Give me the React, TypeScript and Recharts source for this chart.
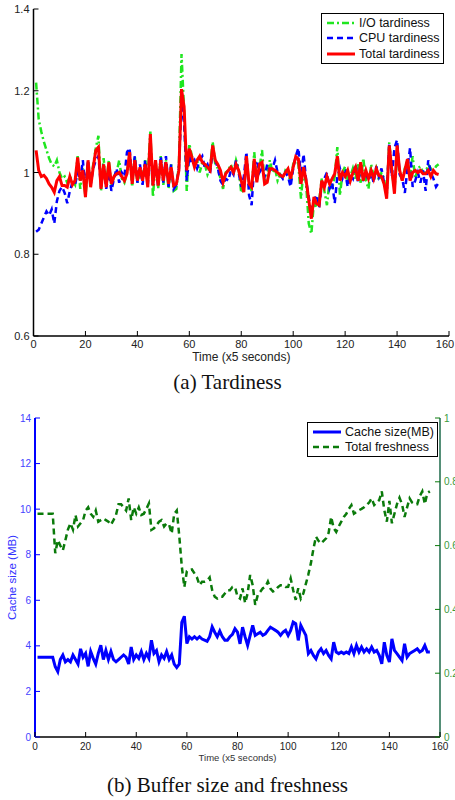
import { LineChart, Line, XAxis, YAxis, Legend } from "recharts";

// time axis: samples 1..156 (x5 seconds)
const xTicks = [0, 20, 40, 60, 80, 100, 120, 140, 160];
const tardinessTicks = [0.6, 0.8, 1, 1.2, 1.4];
const cacheTicks = [0, 2, 4, 6, 8, 10, 12, 14];
const freshnessTicks = [0, 0.2, 0.4, 0.6, 0.8, 1];

const ioTardiness = [
  1.22, 1.13, 1.1, 1.075, 1.055, 1.035, 1.02, 1.015, 1.03, 1.0,
  0.985, 0.99, 0.975, 0.99, 0.98, 0.97, 1.04, 0.96, 1.01, 0.94,
  1.02, 0.975, 1.02, 1.06, 1.09, 0.955, 1.035, 0.965, 1.03, 0.965,
  0.99, 1.0, 1.03, 0.985, 0.975, 1.0, 1.04, 0.965, 1.04, 0.975,
  1.0, 0.985, 1.03, 0.99, 1.1, 0.94, 1.03, 0.96, 1.04, 0.97,
  1.03, 0.96, 1.02, 0.955, 0.96, 1.02, 1.29, 1.15, 0.955, 1.07,
  1.04, 1.02, 1.03, 1.0, 1.025, 1.02, 0.995, 1.01, 1.075, 1.02,
  1.01, 0.985, 0.96, 1.0, 1.005, 1.02, 1.0, 1.03, 1.01, 0.95,
  0.96, 1.04, 0.97, 0.955, 1.05, 0.98, 1.01, 1.055, 0.975, 0.99,
  1.03, 1.0, 1.01, 0.98, 0.995, 0.985, 1.005, 1.0, 0.975, 1.02,
  1.035, 1.02, 0.936, 1.01, 0.97, 0.875, 0.85, 0.93, 0.915, 0.93,
  0.985, 0.955, 0.92, 0.98, 0.96, 0.99, 1.062, 0.944, 1.0, 1.015,
  0.98, 0.99, 1.01, 0.985, 1.02, 0.975, 1.035, 0.98, 0.96, 1.02,
  0.99, 1.01, 0.98, 1.0, 0.985, 0.94, 1.074, 1.0, 0.96, 1.035,
  1.0, 0.98, 1.01, 1.03, 0.99, 1.04, 0.985, 1.01, 1.015, 1.0,
  1.0, 1.02, 1.01, 1.0, 1.015, 1.02,
];

const cpuTardiness = [
  0.855, 0.86, 0.875, 0.89, 0.905, 0.895, 0.91, 0.875, 0.93, 0.955,
  0.965, 0.95, 0.925, 0.955, 0.975, 0.97, 1.0, 0.98, 1.03, 0.96,
  1.03, 0.97, 1.01, 1.03, 1.04, 0.965, 1.02, 0.96, 1.0, 0.955,
  0.985, 1.01, 0.975, 1.0, 0.99, 1.05, 1.06, 0.98, 1.04, 0.975,
  1.02, 0.97, 1.03, 0.97, 1.06, 0.97, 1.02, 0.965, 1.04, 0.975,
  1.04, 0.965, 1.02, 0.96, 0.97, 1.01, 1.17, 1.12, 0.98, 1.04,
  1.02, 1.03, 1.01, 1.03, 1.04, 1.01, 1.02, 1.0, 1.05, 1.03,
  1.01, 0.98, 0.97, 0.985, 0.98, 1.005, 0.995, 1.03, 1.0, 0.965,
  0.99, 1.05, 0.945, 0.92, 1.02, 1.03, 1.0, 1.01, 0.99, 1.02,
  1.005, 1.01, 1.03, 1.0, 0.995, 0.985, 1.0, 0.99, 0.965, 1.01,
  1.04, 1.06, 0.99, 1.045, 0.98, 0.94, 0.9, 0.93, 0.945, 0.915,
  0.97, 0.985, 1.0, 0.96, 0.975, 0.925, 0.99, 1.01, 0.985, 1.0,
  0.965, 0.995, 0.985, 1.02, 0.975, 1.01, 0.985, 1.0, 0.98, 1.0,
  0.975, 1.015, 0.99, 1.01, 0.975, 0.95, 1.07, 0.99, 1.06, 1.08,
  0.995, 0.985, 0.95, 1.01, 1.06, 0.965, 0.98, 1.0, 0.975, 1.005,
  0.955, 1.03, 1.0, 0.985, 0.965, 0.975,
];

const totalTardiness = [
  1.054, 1.005, 0.99, 0.993, 0.985, 0.972, 0.964, 0.952, 0.98, 0.99,
  0.968, 0.968, 0.964, 0.99, 0.97, 0.98, 1.037, 0.98, 1.005, 0.94,
  1.03, 0.964, 1.013, 1.054, 1.062, 0.96, 1.02, 0.964, 1.025, 0.972,
  0.99, 0.997, 1.0, 0.99, 0.98, 0.997, 1.05, 0.972, 1.03, 0.98,
  1.013, 0.98, 1.02, 0.964, 1.094, 0.968, 1.03, 0.968, 1.03, 0.98,
  1.025, 0.972, 1.013, 0.968, 0.972, 1.005, 1.204, 1.16, 1.005, 1.058,
  1.037, 1.013, 1.03, 1.04, 1.025, 1.02, 1.013, 1.005, 1.066, 1.03,
  1.02, 1.005, 0.976, 0.997, 1.005, 1.013, 1.0, 1.02, 1.005, 0.98,
  0.952, 1.04, 0.972, 0.964, 1.033, 0.976, 1.02, 1.025, 0.972, 0.976,
  1.009, 1.009, 1.005, 1.0, 0.993, 0.99, 1.0, 1.009, 0.985, 1.013,
  1.039, 1.033, 0.972, 1.013, 0.98, 0.932, 0.887, 0.94, 0.924, 0.92,
  0.98, 0.964, 0.99, 0.972, 0.985, 0.997, 1.04, 0.98, 1.0, 0.99,
  1.005, 0.98, 1.0, 1.013, 0.98, 1.025, 0.98, 1.005, 0.985, 1.005,
  0.985, 1.009, 0.993, 0.99, 0.972, 0.936, 1.066, 1.005, 0.948, 1.066,
  1.005, 0.98, 1.005, 1.033, 0.98, 1.0, 1.005, 1.0, 1.005, 0.997,
  0.997, 1.005, 0.99, 1.005, 0.997, 0.995,
];

const cacheSize = [
  3.5, 3.5, 3.5, 3.5, 3.5, 3.5, 3.5, 3.08, 2.87, 3.4,
  3.6, 3.3, 3.4, 3.3, 3.6, 3.4, 3.2, 3.87, 3.5, 3.67,
  3.1, 3.75, 3.45, 3.2, 3.67, 4.03, 3.4, 3.8, 3.4, 3.75,
  3.4, 3.3, 3.4, 3.5, 3.6, 3.5, 3.2, 3.95, 3.4, 3.6,
  3.45, 3.75, 3.4, 3.67, 3.45, 4.25, 3.67, 3.8, 3.3, 3.6,
  3.45, 3.75, 3.4, 3.6, 3.2, 3.05, 3.2, 5.03, 5.3, 4.1,
  4.4, 4.3, 4.4, 4.3, 4.4, 4.3, 4.25, 4.2, 4.4, 4.83,
  4.6, 4.4, 4.65, 4.4, 4.25, 4.25, 4.4, 4.5, 4.75, 4.6,
  4.09, 4.82, 4.39, 4.02, 4.46, 4.9, 4.46, 4.53, 4.6, 4.46,
  4.53, 4.68, 4.82, 4.75, 4.68, 4.6, 4.46, 4.6, 4.68, 4.46,
  4.68, 5.04, 4.97, 4.24, 4.9, 4.68, 4.46, 3.66, 3.8, 3.58,
  3.43, 3.73, 3.87, 3.66, 3.8, 3.58, 3.43, 4.16, 3.73, 3.66,
  3.73, 3.66, 3.73, 3.66, 3.95, 3.66, 4.02, 3.73, 3.95, 3.73,
  3.87, 3.73, 3.95, 3.73, 3.8, 3.58, 3.21, 4.16, 3.58, 3.29,
  4.31, 3.8, 3.66, 3.51, 3.36, 4.09, 3.51, 3.66, 3.73, 3.8,
  3.87, 3.73, 3.8, 4.02, 3.73, 3.73,
];

const totalFreshness = [
  0.7, 0.7, 0.7, 0.7, 0.7, 0.7, 0.7, 0.576, 0.617, 0.6,
  0.585, 0.617, 0.65, 0.67, 0.65, 0.696, 0.66, 0.67, 0.68, 0.71,
  0.72, 0.7, 0.69, 0.71, 0.675, 0.68, 0.685, 0.68, 0.675, 0.665,
  0.68, 0.696, 0.73, 0.73, 0.72, 0.71, 0.748, 0.68, 0.72, 0.7,
  0.72, 0.696, 0.7, 0.715, 0.732, 0.649, 0.654, 0.664, 0.675, 0.68,
  0.66, 0.67, 0.665, 0.638, 0.7, 0.71, 0.63, 0.534, 0.47, 0.52,
  0.523, 0.525, 0.513, 0.5, 0.476, 0.487, 0.487, 0.49, 0.5, 0.46,
  0.44, 0.434, 0.44, 0.44, 0.45, 0.46, 0.46, 0.47, 0.47, 0.44,
  0.434, 0.466, 0.42, 0.45, 0.508, 0.476, 0.414, 0.445, 0.455, 0.466,
  0.47, 0.487, 0.465, 0.456, 0.46, 0.47, 0.476, 0.476, 0.47, 0.471,
  0.497, 0.46, 0.43, 0.466, 0.434, 0.45, 0.48, 0.51, 0.545, 0.59,
  0.628, 0.615, 0.607, 0.615, 0.623, 0.64, 0.69, 0.655, 0.643, 0.66,
  0.675, 0.69, 0.7, 0.715, 0.727, 0.7, 0.705, 0.711, 0.715, 0.72,
  0.727, 0.735, 0.748, 0.727, 0.735, 0.743, 0.77, 0.711, 0.675, 0.74,
  0.67, 0.7, 0.73, 0.75, 0.73, 0.69, 0.72, 0.748, 0.735, 0.73,
  0.73, 0.755, 0.77, 0.73, 0.765, 0.77,
];

const tardinessData = totalTardiness.map((v, i) => ({
  time: i + 1,
  io: ioTardiness[i],
  cpu: cpuTardiness[i],
  total: v,
}));

const bufferData = cacheSize.map((v, i) => ({
  time: i + 1,
  cache: v,
  fresh: totalFreshness[i],
}));

const FONT = "'Liberation Sans', Arial, Helvetica, sans-serif";

type TickProps = { x?: number; y?: number; payload?: { value: number } };

// bottom ticks point inward; labels are kept inside the page edge
const bottomTick = (color: string, size: number, dy: number, tickColor: string, maxX: number) => (p: TickProps) => (
  <g>
    <line x1={p.x} x2={p.x} y1={p.y} y2={(p.y ?? 0) - 5} stroke={tickColor} strokeWidth={1} />
    <text x={Math.min(p.x ?? 0, maxX)} y={(p.y ?? 0) + dy} textAnchor="middle" dominantBaseline="central" fill={color} fontSize={size} fontFamily={FONT}>
      {String(p.payload?.value)}
    </text>
  </g>
);

const topTick = (tickColor: string) => (p: TickProps) => (
  <line x1={p.x} x2={p.x} y1={p.y} y2={(p.y ?? 0) + 5} stroke={tickColor} strokeWidth={1} />
);

const leftTick = (color: string, size: number, tickColor: string) => (p: TickProps) => (
  <g>
    <line x1={p.x} x2={(p.x ?? 0) + 5} y1={p.y} y2={p.y} stroke={tickColor} strokeWidth={1} />
    <text x={(p.x ?? 0) - 4} y={p.y} textAnchor="end" dominantBaseline="central" fill={color} fontSize={size} fontFamily={FONT}>
      {String(p.payload?.value)}
    </text>
  </g>
);

const rightTick = (color: string | null, size: number, tickColor: string) => (p: TickProps) => (
  <g>
    <line x1={p.x} x2={(p.x ?? 0) - 5} y1={p.y} y2={p.y} stroke={tickColor} strokeWidth={1} />
    {color && (
      <text x={(p.x ?? 0) + 4} y={p.y} textAnchor="start" dominantBaseline="central" fill={color} fontSize={size} fontFamily={FONT}>
        {String(p.payload?.value)}
      </text>
    )}
  </g>
);

const seriesStyle: Record<string, { dash?: string; width: number; order: number }> = {
  io: { dash: "7 3 2 3", width: 2.5, order: 0 },
  cpu: { dash: "6 4", width: 2.5, order: 1 },
  total: { width: 3, order: 2 },
  cache: { width: 3, order: 0 },
  fresh: { dash: "6 4", width: 2.5, order: 1 },
};

const BoxLegend = (props: any) => {
  const items = [...(props.payload ?? [])].sort(
    (a: any, b: any) => (seriesStyle[a.dataKey]?.order ?? 0) - (seriesStyle[b.dataKey]?.order ?? 0),
  );
  return (
    <div style={{ border: "1.5px solid #000", background: "#fff", padding: "1px 3px 1px 4px", fontFamily: FONT, fontSize: 12.5, color: "#111" }}>
      {items.map((item: any) => {
        const st = seriesStyle[item.dataKey] ?? { width: 2 };
        return (
          <div key={item.dataKey} style={{ display: "flex", alignItems: "center", height: 15.5, whiteSpace: "nowrap" }}>
            <svg width={30} height={10} style={{ marginRight: 3 }}>
              <line x1={1} x2={29} y1={5} y2={5} stroke={item.color} strokeWidth={st.width} strokeDasharray={st.dash} />
            </svg>
            <span>{item.value}</span>
          </div>
        );
      })}
    </div>
  );
};

const Caption = ({ top, text }: { top: number; text: string }) => (
  <div style={{ position: "absolute", top, left: 0, width: 455, textAlign: "center", fontFamily: "'Liberation Serif', 'Times New Roman', serif", fontSize: 21, lineHeight: "24px", color: "#111" }}>
    {text}
  </div>
);

export default function App() {
  return (
    <div style={{ position: "absolute", left: 0, top: 0, width: 455, height: 800, background: "#fff", overflow: "hidden" }}>
      <div style={{ position: "absolute", left: 0, top: 0 }}>
        <LineChart width={455} height={370} data={tardinessData} margin={{ top: 9, right: 6, bottom: 0, left: 0 }}>
          <XAxis
            dataKey="time"
            type="number"
            domain={[0, 160]}
            ticks={xTicks}
            interval={0}
            height={34}
            tickSize={0}
            tickMargin={0}
            tickLine={false}
            axisLine={{ stroke: "#000", strokeWidth: 1.5 }}
            tick={bottomTick("#222", 11, 8, "#000", 445)}
            label={{ value: "Time (x5 seconds)", position: "insideBottom", offset: 9, fill: "#222", fontSize: 12, fontFamily: FONT }}
          />
          <XAxis
            xAxisId="top"
            orientation="top"
            type="number"
            domain={[0, 160]}
            ticks={xTicks}
            interval={0}
            height={0}
            tickSize={0}
            tickLine={false}
            axisLine={{ stroke: "#000", strokeWidth: 1.2 }}
            tick={topTick("#000")}
          />
          <YAxis
            type="number"
            domain={[0.6, 1.4]}
            ticks={tardinessTicks}
            interval={0}
            width={33.5}
            tickSize={0}
            tickMargin={0}
            tickLine={false}
            allowDataOverflow
            axisLine={{ stroke: "#000", strokeWidth: 1.5 }}
            tick={leftTick("#222", 11, "#000")}
          />
          <YAxis
            yAxisId="right"
            orientation="right"
            type="number"
            domain={[0.6, 1.4]}
            ticks={tardinessTicks}
            interval={0}
            width={0}
            tickSize={0}
            tickLine={false}
            axisLine={{ stroke: "#000", strokeWidth: 1.2 }}
            tick={rightTick(null, 11, "#000")}
          />
          <Legend
            layout="horizontal"
            verticalAlign="middle"
            align="center"
            content={<BoxLegend />}
            wrapperStyle={{ position: "absolute", left: 321, top: 13, width: "auto" }}
          />
          <Line dataKey="io" name="I/O tardiness" stroke="#1fe61f" strokeWidth={2.5} strokeDasharray="7 3 2 3" dot={false} isAnimationActive={false} />
          <Line dataKey="cpu" name="CPU tardiness" stroke="#0000ff" strokeWidth={2.5} strokeDasharray="6 4" dot={false} isAnimationActive={false} />
          <Line dataKey="total" name="Total tardiness" stroke="#ff0000" strokeWidth={3} dot={false} isAnimationActive={false} />
        </LineChart>
      </div>
      <Caption top={370} text="(a) Tardiness" />

      <div style={{ position: "absolute", left: 0, top: 400 }}>
        <LineChart width={455} height={370} data={bufferData} margin={{ top: 18, right: 0, bottom: 0, left: 0 }}>
          <XAxis
            dataKey="time"
            type="number"
            domain={[0, 160]}
            ticks={xTicks}
            interval={0}
            height={33}
            tickSize={0}
            tickMargin={0}
            tickLine={false}
            axisLine={{ stroke: "#000", strokeWidth: 1.5 }}
            tick={bottomTick("#222", 10, 9, "#000", 446)}
            label={{ value: "Time (x5 seconds)", position: "insideBottom", offset: 9, fill: "#333", fontSize: 9.5, fontFamily: FONT }}
          />
          <XAxis
            xAxisId="top"
            orientation="top"
            type="number"
            domain={[0, 160]}
            ticks={xTicks}
            interval={0}
            height={0}
            tickSize={0}
            tickLine={false}
            axisLine={{ stroke: "#000", strokeWidth: 1.2 }}
            tick={topTick("#000")}
          />
          <YAxis
            yAxisId="mb"
            type="number"
            domain={[0, 14]}
            ticks={cacheTicks}
            interval={0}
            width={35}
            tickSize={0}
            tickMargin={0}
            tickLine={false}
            axisLine={{ stroke: "#0000ff", strokeWidth: 2 }}
            tick={leftTick("#4444ff", 10, "#0000ff")}
            label={{ value: "Cache size (MB)", angle: -90, position: "insideLeft", offset: 12, fill: "#3333ff", fontSize: 11.5, fontFamily: FONT, style: { textAnchor: "middle" } }}
          />
          <YAxis
            yAxisId="mbRight"
            orientation="right"
            type="number"
            domain={[0, 14]}
            ticks={cacheTicks}
            interval={0}
            width={0}
            tickSize={0}
            tickLine={false}
            axisLine={false}
            tick={rightTick(null, 10, "#0000ff")}
          />
          <YAxis
            yAxisId="fr"
            orientation="right"
            type="number"
            domain={[0, 1]}
            ticks={freshnessTicks}
            interval={0}
            width={15}
            tickSize={0}
            tickMargin={0}
            tickLine={false}
            axisLine={{ stroke: "#1d6a4a", strokeWidth: 1.5 }}
            tick={rightTick("#3a9a3a", 10, "#0a7a0a")}
          />
          <Legend
            layout="horizontal"
            verticalAlign="middle"
            align="center"
            content={<BoxLegend />}
            wrapperStyle={{ position: "absolute", left: 307, top: 22, width: "auto" }}
          />
          <Line yAxisId="mb" dataKey="cache" name="Cache size(MB)" stroke="#0000ff" strokeWidth={3} dot={false} isAnimationActive={false} />
          <Line yAxisId="fr" dataKey="fresh" name="Total freshness" stroke="#0a7a0a" strokeWidth={2.5} strokeDasharray="6 4" dot={false} isAnimationActive={false} />
        </LineChart>
      </div>
      <Caption top={773} text="(b) Buffer size and freshness" />
    </div>
  );
}
